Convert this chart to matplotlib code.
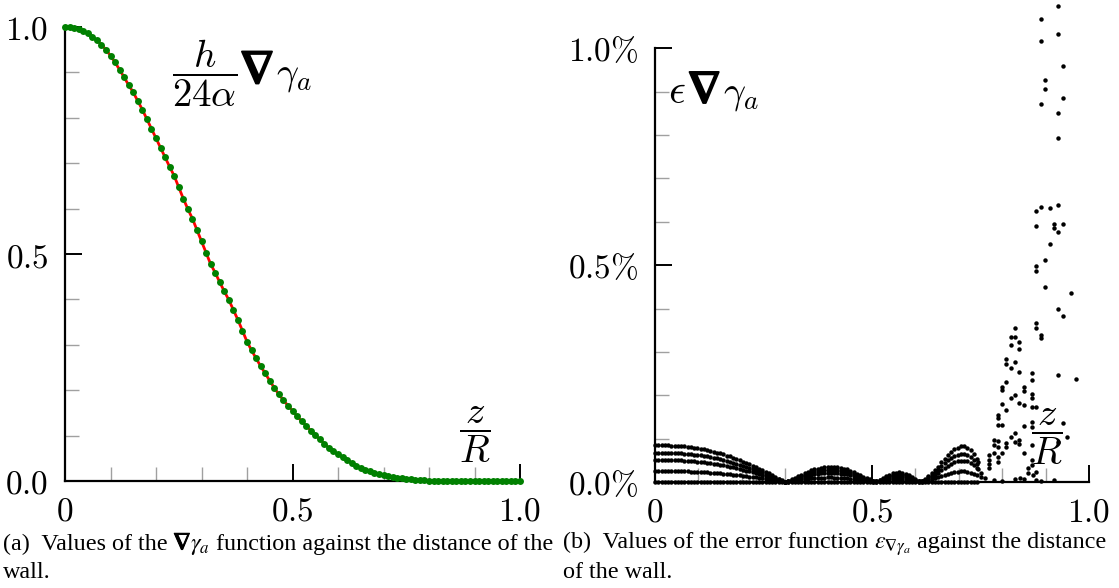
import numpy as np
import matplotlib
matplotlib.use("Agg")
import matplotlib.pyplot as plt
import matplotlib.patheffects as pe
from matplotlib.ticker import FixedLocator, FixedFormatter
from matplotlib.offsetbox import TextArea, HPacker, AnnotationBbox

plt.rcParams['mathtext.fontset'] = 'cm'

# ---- panel (a): h/(24 alpha) grad gamma_a against z/R (step 0.01)
grad_x = np.arange(101) * 0.01
grad_y = [1.000, 0.999, 0.998, 0.995, 0.992, 0.986, 0.979, 0.971, 0.961, 0.950,
          0.937, 0.922, 0.906, 0.889, 0.872, 0.856, 0.837, 0.818, 0.797, 0.776,
          0.755, 0.734, 0.713, 0.692, 0.672, 0.647, 0.622, 0.599, 0.578, 0.553,
          0.528, 0.503, 0.478, 0.459, 0.438, 0.418, 0.399, 0.377, 0.355, 0.331,
          0.307, 0.288, 0.270, 0.253, 0.237, 0.221, 0.205, 0.191, 0.178, 0.166,
          0.155, 0.143, 0.132, 0.122, 0.111, 0.101, 0.092, 0.082, 0.073, 0.066,
          0.059, 0.052, 0.046, 0.040, 0.034, 0.029, 0.025, 0.021, 0.018, 0.015,
          0.013, 0.011, 0.009, 0.007, 0.006, 0.005, 0.004, 0.003, 0.002, 0.002,
          0.001, 0.001, 0.001, 0.0, 0.0, 0.0, 0.0, 0.0, 0.0, 0.0,
          0.0, 0.0, 0.0, 0.0, 0.0, 0.0, 0.0, 0.0, 0.0, 0.0, 0.0]

# ---- panel (b): error envelope (in %) on a 0.0075 grid, and its levels
err_x = np.arange(100) * 0.0075
err_top = [0.085, 0.085, 0.085, 0.085, 0.085, 0.084, 0.084, 0.083, 0.083, 0.082,
           0.081, 0.080, 0.079, 0.078, 0.077, 0.075, 0.074, 0.072, 0.070, 0.068,
           0.066, 0.064, 0.061, 0.059, 0.056, 0.053, 0.050, 0.047, 0.044, 0.041,
           0.038, 0.035, 0.031, 0.028, 0.024, 0.020, 0.016, 0.012, 0.008, 0.004,
           0.001, 0.003, 0.006, 0.010, 0.013, 0.017, 0.020, 0.024, 0.027, 0.029,
           0.031, 0.033, 0.034, 0.035, 0.035, 0.034, 0.034, 0.032, 0.031, 0.029,
           0.026, 0.023, 0.019, 0.016, 0.012, 0.009, 0.006, 0.003, 0.002, 0.005,
           0.009, 0.013, 0.017, 0.020, 0.021, 0.022, 0.021, 0.019, 0.016, 0.012,
           0.007, 0.003, 0.002, 0.007, 0.013, 0.020, 0.027, 0.035, 0.045, 0.054,
           0.062, 0.069, 0.075, 0.079, 0.082, 0.082, 0.079, 0.073, 0.064, 0.052]
err_levels = [1.0, 0.8, 0.6, 0.3, 0.0]

# scattered error values near the wall
scat_x = [0.929, 0.889, 0.929, 0.889, 0.939, 0.899, 0.899, 0.939, 0.889, 0.929,
          0.929, 0.879, 0.889, 0.909, 0.929, 0.879, 0.919, 0.939, 0.919, 0.929,
          0.909, 0.899, 0.879, 0.879, 0.899, 0.959, 0.929, 0.939, 0.879, 0.879,
          0.889, 0.889, 0.829, 0.820, 0.829, 0.839, 0.820, 0.839, 0.809, 0.809,
          0.829, 0.820, 0.839, 0.869, 0.869, 0.929, 0.969, 0.809, 0.800, 0.800,
          0.850, 0.850, 0.869, 0.829, 0.820, 0.839, 0.850, 0.869, 0.879, 0.869,
          0.800, 0.809, 0.790, 0.790, 0.790, 0.800, 0.850, 0.869, 0.869, 0.939,
          0.949, 0.829, 0.820, 0.839, 0.829, 0.809, 0.839, 0.809, 0.780, 0.790,
          0.780, 0.790, 0.800, 0.850, 0.869, 0.929, 0.780, 0.790, 0.790, 0.770,
          0.770, 0.770, 0.770, 0.869, 0.869, 0.859, 0.859, 0.879, 0.879,
          0.745, 0.745, 0.750, 0.750, 0.760, 0.780, 0.800, 0.830, 0.840, 0.850,
          0.870, 0.890, 0.920]
scat_y = [1.097, 1.067, 1.033, 1.017, 0.959, 0.928, 0.906, 0.886, 0.871, 0.852,
          0.794, 0.625, 0.635, 0.632, 0.638, 0.591, 0.596, 0.596, 0.585, 0.577,
          0.548, 0.512, 0.498, 0.487, 0.449, 0.436, 0.400, 0.382, 0.366, 0.354,
          0.339, 0.331, 0.354, 0.335, 0.335, 0.323, 0.316, 0.306, 0.283, 0.273,
          0.277, 0.262, 0.253, 0.252, 0.235, 0.246, 0.237, 0.231, 0.220, 0.212,
          0.218, 0.210, 0.203, 0.200, 0.193, 0.183, 0.177, 0.193, 0.174, 0.174,
          0.180, 0.166, 0.154, 0.147, 0.131, 0.131, 0.129, 0.139, 0.127, 0.135,
          0.103, 0.112, 0.104, 0.098, 0.093, 0.091, 0.088, 0.081, 0.097, 0.095,
          0.085, 0.081, 0.068, 0.068, 0.085, 0.093, 0.066, 0.057, 0.047, 0.062,
          0.051, 0.041, 0.032, 0.051, 0.039, 0.032, 0.020, 0.024, 0.005,
          0.045, 0.030, 0.020, 0.012, 0.010, 0.005, 0.003, 0.007, 0.009, 0.006,
          0.015, 0.003, 0.005]

W, H = 1119, 588
fig = plt.figure(figsize=(W / 100, H / 100), dpi=100)


def bold_nabla(size, stroke):
    return dict(fontsize=size, family='STIXGeneral', weight='bold',
                path_effects=[pe.withStroke(linewidth=stroke, foreground='black')])


def style_axes(ax, ylabels, ymax_tick):
    for s in ['top', 'right']:
        ax.spines[s].set_visible(False)
    for s in ['left', 'bottom']:
        ax.spines[s].set_linewidth(1.6)
    ax.spines['left'].set_bounds(0, ymax_tick)
    ax.spines['bottom'].set_bounds(0, 1.0)
    ax.xaxis.set_major_locator(FixedLocator([0, 0.5, 1.0]))
    ax.xaxis.set_major_formatter(FixedFormatter(['$0$', '$0.5$', '$1.0$']))
    ax.xaxis.set_minor_locator(FixedLocator(np.arange(1, 10) * 0.1))
    yt = [0, ymax_tick / 2, ymax_tick]
    ax.yaxis.set_major_locator(FixedLocator(yt))
    ax.yaxis.set_major_formatter(FixedFormatter(ylabels))
    ax.yaxis.set_minor_locator(FixedLocator(np.arange(1, 10) * 0.1 * ymax_tick))
    ax.tick_params(which='major', direction='in', length=12, width=1.4,
                   color='black', labelsize=24)
    ax.tick_params(which='minor', direction='in', length=10, width=1.0,
                   color='#a0a0a0')
    ax.tick_params(axis='x', which='major', pad=10)
    ax.tick_params(axis='y', which='major', pad=12)


def packed_label(target, parts, xy, coords, align=(0, 0.5), sep=0):
    boxes = [TextArea(s, textprops=p) for s, p in parts]
    pack = HPacker(children=boxes, align='baseline', pad=0, sep=sep)
    ab = AnnotationBbox(pack, xy, xycoords=coords, box_alignment=align,
                        frameon=False, pad=0, annotation_clip=False)
    target.add_artist(ab)


# ---- (a)
ax1 = fig.add_axes([65 / W, 1 - 481 / H, 455 / W, 454 / H])
ax1.plot(grad_x, grad_y, color='red', lw=2.0, zorder=2, clip_on=False)
ax1.plot(grad_x, grad_y, 'o', color='green', ms=5.0, mec='none', zorder=3,
         clip_on=False)
ax1.set_xlim(0, 1)
ax1.set_ylim(0, 1)
style_axes(ax1, ['$0.0$', '$0.5$', '$1.0$'], 1.0)
packed_label(ax1, [(r'$\dfrac{h}{24\alpha}$', dict(fontsize=28)),
                   ('∇', bold_nabla(34, 1.4)),
                   (r'$\gamma_a$', dict(fontsize=28))],
             (0.236, 0.897), 'data', sep=2)
ax1.text(0.90, 0.102, r'$\dfrac{z}{R}$', fontsize=28, ha='center', va='center')

# ---- (b)
ax2 = fig.add_axes([655 / W, 1 - 482 / H, 434 / W, 477 / H])
for lev in err_levels:
    ax2.plot(err_x, np.array(err_top) * lev, 'o', color='black', ms=3.2,
             mec='none', clip_on=False)
ax2.plot(scat_x, scat_y, 'o', color='black', ms=3.2, mec='none', clip_on=False)
ax2.set_xlim(0, 1)
ax2.set_ylim(0, 1.1)
style_axes(ax2, [r'$0.0\%$', r'$0.5\%$', r'$1.0\%$'], 1.0)
packed_label(ax2, [(r'$\epsilon$', dict(fontsize=30)),
                   ('∇', bold_nabla(33, 1.4)),
                   (r'$\gamma_a$', dict(fontsize=28))],
             (0.03, 0.9), 'data', sep=2)
ax2.text(0.902, 0.105, r'$\dfrac{z}{R}$', fontsize=28, ha='center', va='center')

# ---- captions
cap = dict(fontsize=17.4, family='Liberation Serif', math_fontfamily='stix')
packed_label(fig, [('(a)  Values of the ', cap), ('∇', bold_nabla(17.4, 0.7)),
                   (r'$\gamma_a$', cap),
                   (' function against the distance of the', cap)],
             (3 / W, 1 - 545 / H), 'figure fraction')
fig.text(3 / W, 1 - 572 / H, 'wall.', va='center', **cap)
packed_label(fig, [('(b)  Values of the error function ', cap),
                   (r'$\epsilon_{\mathbf{∇}\gamma_a}$', cap),
                   (' against the distance', cap)],
             (563 / W, 1 - 545 / H), 'figure fraction')
fig.text(563 / W, 1 - 572 / H, 'of the wall.', va='center', **cap)

fig.savefig('out.png', dpi=100)
